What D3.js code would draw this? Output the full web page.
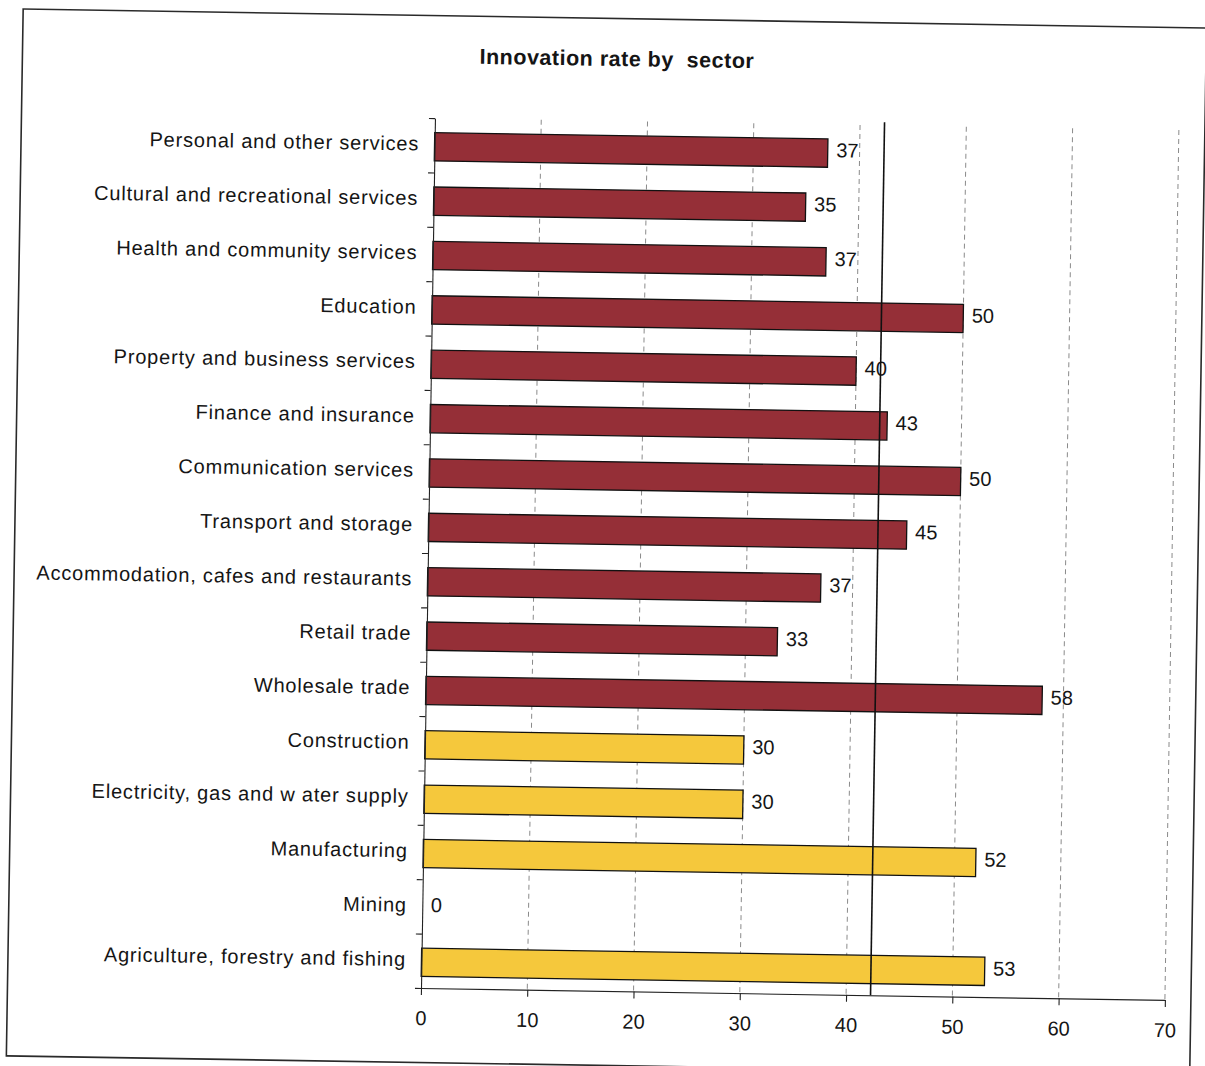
<!DOCTYPE html>
<html>
<head>
<meta charset="utf-8">
<script src="https://cdn.jsdelivr.net/npm/d3@7"></script>
<style>
  html, body { margin: 0; padding: 0; background: #ffffff; }
  svg { display: block; }
  text { font-family: "Liberation Sans", Arial, sans-serif; fill: #151515; }
</style>
</head>
<body>
<svg id="chart" width="1205" height="1066"></svg>
<script>
// Sectors from top to bottom, with their innovation rate (%)
const sectors = [
  "Personal and other services",
  "Cultural and recreational services",
  "Health and community services",
  "Education",
  "Property and business services",
  "Finance and insurance",
  "Communication services",
  "Transport and storage",
  "Accommodation, cafes and restaurants",
  "Retail trade",
  "Wholesale trade",
  "Construction",
  "Electricity, gas and w ater supply",
  "Manufacturing",
  "Mining",
  "Agriculture, forestry and fishing"
];
const rates = [37, 35, 37, 50, 40, 43, 50, 45, 37, 33, 58, 30, 30, 52, 0, 53];
const groups = [
  "services", "services", "services", "services", "services", "services",
  "services", "services", "services", "services", "services",
  "goods", "goods", "goods", "goods", "goods"
];
const xTickValues = [0, 10, 20, 30, 40, 50, 60, 70];
const allSectorsRate = 42.3;
const chartTitle = "Innovation rate by  sector";

const groupColour = { services: "#952F37", goods: "#F5C83C" };

const svg = d3.select("#chart");

// plot area (before the slight page tilt is applied)
const plotLeft = 421, plotRight = 1165, plotTop = 118, plotBottom = 988;

const root = svg.append("g")
  .attr("transform", `rotate(0.92, ${plotLeft}, ${plotBottom})`);

// outer frame
root.append("rect")
  .attr("x", 7.5).attr("y", 15.5)
  .attr("width", 1183.5).attr("height", 1047)
  .attr("fill", "none")
  .attr("stroke", "#2a2a2a")
  .attr("stroke-width", 1.6);

// title
root.append("text")
  .attr("x", 602).attr("y", 63)
  .attr("text-anchor", "middle")
  .style("white-space", "pre")
  .attr("font-size", 21.5)
  .attr("font-weight", "bold")
  .attr("letter-spacing", 0.5)
  .text(chartTitle);

const x = d3.scaleLinear().domain([0, 70]).range([plotLeft, plotRight]);
const y = d3.scaleBand().domain(sectors).range([plotTop, plotBottom])
  .paddingInner(0.48).paddingOuter(0.24);
const slot = d3.scaleLinear().domain([0, sectors.length]).range([plotTop, plotBottom]);

// dashed vertical gridlines
root.append("g")
  .selectAll("line")
  .data(xTickValues.filter(v => v > 0))
  .join("line")
  .attr("x1", d => x(d)).attr("x2", d => x(d))
  .attr("y1", plotTop).attr("y2", plotBottom)
  .attr("stroke", "#8a8a8a")
  .attr("stroke-width", 1)
  .attr("stroke-dasharray", "5,4");

const data = sectors.map((s, i) => ({ sector: s, rate: rates[i], group: groups[i] }));

// bars
root.append("g")
  .selectAll("rect")
  .data(data.filter(d => d.rate > 0))
  .join("rect")
  .attr("x", x(0))
  .attr("y", d => y(d.sector) + 1.5)
  .attr("width", d => x(d.rate) - x(0))
  .attr("height", y.bandwidth())
  .attr("fill", d => groupColour[d.group])
  .attr("stroke", "#111")
  .attr("stroke-width", 1.3);

// value labels
root.append("g")
  .selectAll("text")
  .data(data)
  .join("text")
  .attr("x", d => x(d.rate) + 8.5)
  .attr("y", d => y(d.sector) + y.bandwidth() / 2 + 5.5)
  .attr("font-size", 20)
  .text(d => d.rate);

// all-sector average line
root.append("line")
  .attr("x1", x(allSectorsRate)).attr("x2", x(allSectorsRate))
  .attr("y1", plotTop - 3).attr("y2", plotBottom)
  .attr("stroke", "#111")
  .attr("stroke-width", 1.6);

// x axis
const xAxis = root.append("g")
  .attr("transform", `translate(0, ${plotBottom})`)
  .call(d3.axisBottom(x).tickValues(xTickValues).tickSize(7).tickSizeOuter(0).tickPadding(16));
xAxis.select(".domain").attr("stroke", "#222").attr("stroke-width", 1.2);
xAxis.selectAll(".tick line").attr("stroke", "#222").attr("stroke-width", 1.1);
xAxis.selectAll(".tick text")
  .attr("font-size", 20)
  .attr("font-family", "Liberation Sans, Arial, sans-serif")
  .attr("fill", "#151515");

// y axis: ticks between sectors
const yAxis = root.append("g")
  .attr("transform", `translate(${plotLeft}, 0)`)
  .call(d3.axisLeft(slot).ticks(sectors.length).tickSize(6).tickSizeOuter(0).tickFormat(""));
yAxis.select(".domain").attr("stroke", "#222").attr("stroke-width", 1.1);
yAxis.selectAll(".tick line").attr("stroke", "#222").attr("stroke-width", 1.1);

// sector labels
root.append("g")
  .selectAll("text")
  .data(sectors)
  .join("text")
  .attr("x", plotLeft - 15.5)
  .attr("y", d => y(d) + y.bandwidth() / 2 + 5.5)
  .attr("text-anchor", "end")
  .attr("font-size", 20)
  .attr("letter-spacing", 0.8)
  .text(d => d);
</script>
</body>
</html>
